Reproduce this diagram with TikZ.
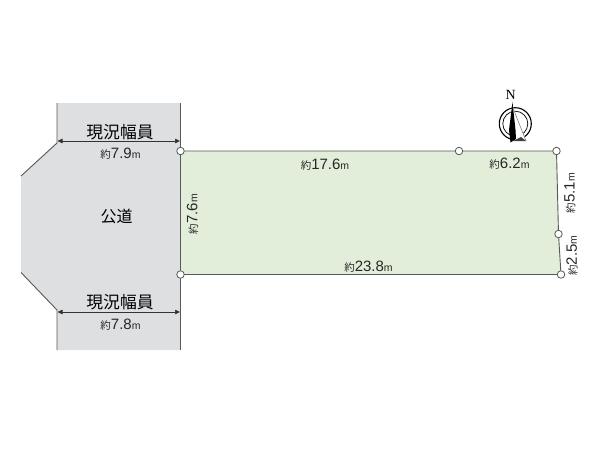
\documentclass[tikz,border=0pt]{standalone}
\usepackage{fontspec}
\setmainfont{Liberation Sans}
\newfontfamily\cjk{Noto Sans CJK JP}
\newfontfamily\serifN{Liberation Serif}
\definecolor{roadgray}{RGB}{221,223,224}
\definecolor{lotgreen}{RGB}{227,238,218}
\definecolor{linegray}{RGB}{85,90,85}
\newcommand{\dimlab}[1]{{\cjk\fontsize{10.5}{10}\selectfont 約}{\fontsize{15}{15}\selectfont #1}{\fontsize{10.5}{10}\selectfont m}}
\usetikzlibrary{arrows.meta}
\tikzset{
 boundary/.style={draw=linegray,line width=0.9pt},
 pin/.style={circle,draw=linegray,fill=white,line width=0.8pt,minimum size=7.5pt,inner sep=0pt},
 dimline/.style={draw=black!80,line width=0.7pt,{Triangle[length=5pt,width=4.5pt]}-{Triangle[length=5pt,width=4.5pt]}},
 roadtext/.style={font=\cjk\fontsize{16.8}{17}\selectfont,inner sep=0pt},
 lab/.style={inner sep=0pt,text=black!85},
}
\begin{document}
\begin{tikzpicture}[x=1pt,y=-1pt]
\useasboundingbox (0,0) rectangle (600,450);
\fill[roadgray] (57,103) -- (180.5,103) -- (180.5,350) -- (57,350) -- (57,310) -- (21,272.5) -- (21,176) -- (57,143) -- cycle;
\draw[boundary] (57,103) -- (57,143) -- (21,176);
\draw[boundary] (21,272.5) -- (57,310) -- (57,350);
\draw[boundary] (180.5,103) -- (180.5,350);
\coordinate (A) at (180.5,151);
\coordinate (B) at (459,151);
\coordinate (C) at (556.5,151);
\coordinate (D) at (558.5,234);
\coordinate (E) at (561,274.5);
\coordinate (F) at (180.5,274.5);
\filldraw[boundary,fill=lotgreen] (A) -- (B) -- (C) -- (D) -- (E) -- (F) -- cycle;
\node[pin] (pa) at (A) {};
\node[pin] (pb) at (B) {};
\node[pin] (pc) at (C) {};
\node[pin] (pd) at (D) {};
\node[pin] (pe) at (E) {};
\node[pin] (pf) at (F) {};
\coordinate (t1) at (57.5,141);
\coordinate (t2) at (180,141);
\coordinate (b1) at (57.5,312);
\coordinate (b2) at (180,312);
\draw[dimline] (t1) -- (t2);
\draw[dimline] (b1) -- (b2);
\node[roadtext] (r1) at (120,132.5) {現況幅員};
\node[roadtext] (r2) at (120,302.5) {現況幅員};
\node[roadtext,font=\cjk\fontsize{16}{16}\selectfont] (r3) at (116.5,216) {公道};
\node[lab] (l1) at (120.5,154) {\dimlab{7.9}};
\node[lab] (l2) at (120.5,325) {\dimlab{7.8}};
\node[lab] (l3) at (325,165) {\dimlab{17.6}};
\node[lab] (l4) at (509.5,164) {\dimlab{6.2}};
\node[lab] (l5) at (368.5,267) {\dimlab{23.8}};
\node[lab,rotate=90] (l6) at (192.5,214) {\dimlab{7.6}};
\node[lab,rotate=90] (l7) at (570,193) {\dimlab{5.1}};
\node[lab,rotate=90] (l8) at (572,255.5) {\dimlab{2.5}};
% compass
\node[inner sep=0pt,font=\serifN\fontsize{14}{14}\selectfont] (N) at (510.7,95) {N};
\draw[black,line width=1.1pt] (515.3,123.7) circle (16pt);
\draw[black,line width=0.7pt] (515.3,123.7) circle (12.5pt);
\fill[white] (513,108) -- (526,141) -- (511,143) -- cycle;
\fill[black] (512.5,102) -- (515.5,130) -- (516,139) -- (510.5,142.5) -- (509,130) -- cycle;
\draw[gray,line width=0.6pt] (513,108) -- (526,141);
\fill[black!75] (513,141) -- (521,137) -- (526,141) -- cycle;
\end{tikzpicture}
\end{document}
